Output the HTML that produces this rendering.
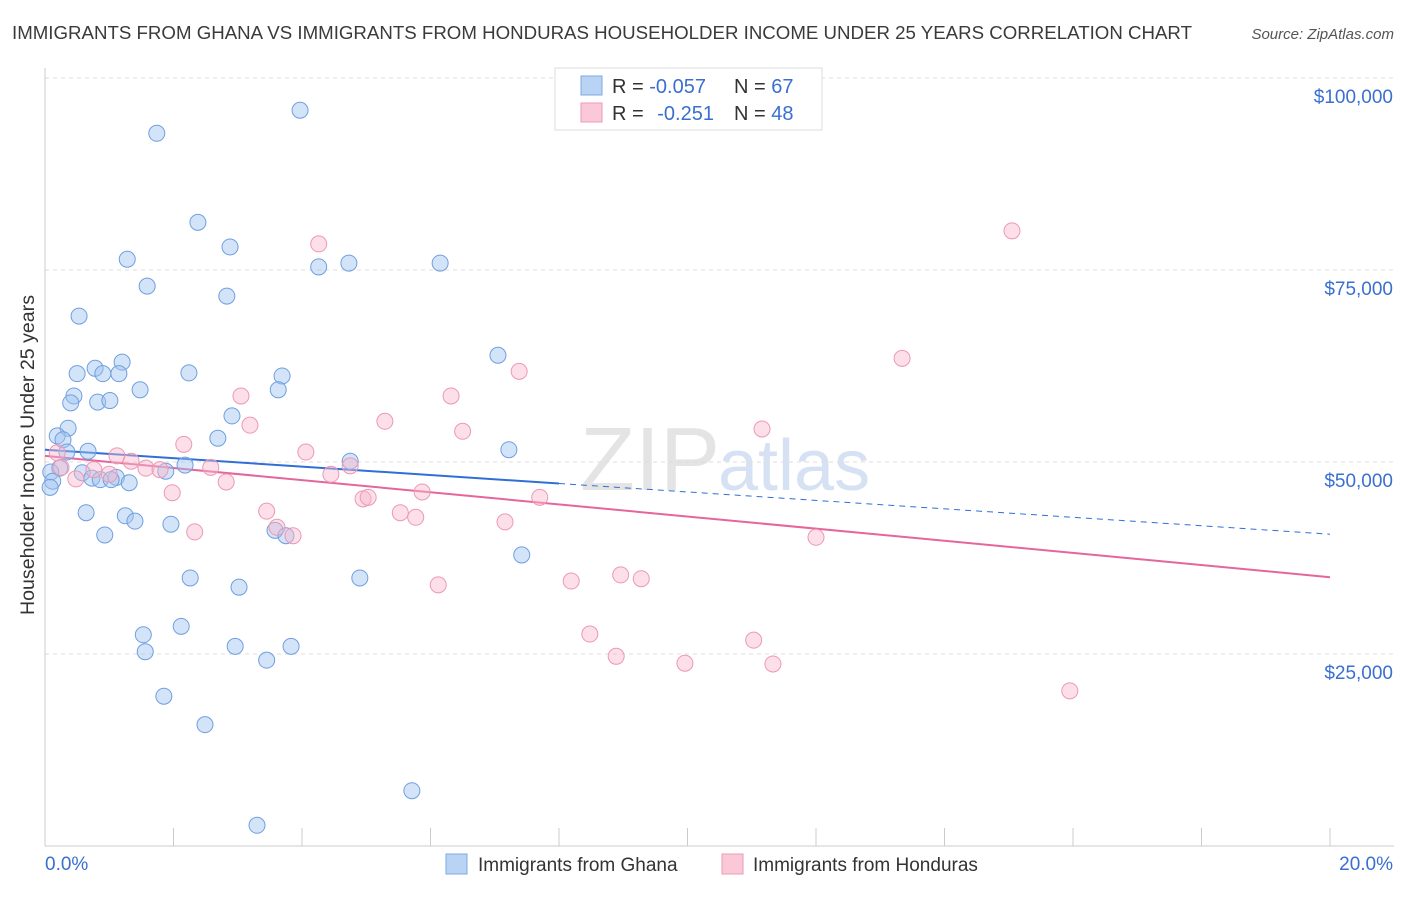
<!DOCTYPE html>
<html><head><meta charset="utf-8"><style>
body{margin:0;background:#fff;font-family:"Liberation Sans",sans-serif;}
svg text{font-family:"Liberation Sans",sans-serif;}
</style></head><body>
<svg id="chart" width="1406" height="892" xmlns="http://www.w3.org/2000/svg">
<text x="12" y="39" font-size="18" fill="#3a3a3a" textLength="1180" lengthAdjust="spacingAndGlyphs">IMMIGRANTS FROM GHANA VS IMMIGRANTS FROM HONDURAS HOUSEHOLDER INCOME UNDER 25 YEARS CORRELATION CHART</text>
<text x="1394" y="39" font-size="15" fill="#555" font-style="italic" text-anchor="end">Source: ZipAtlas.com</text>
<text x="720" y="490" font-size="90" fill="#e4e4e4" text-anchor="end" font-family="Liberation Serif">ZIP</text>
<text x="718" y="490" font-size="72" fill="#d6e2f3">atlas</text>
<text transform="translate(34,455) rotate(-90)" font-size="19" fill="#333" text-anchor="middle" textLength="320" lengthAdjust="spacingAndGlyphs">Householder Income Under 25 years</text>
<g id="grid"></g><g id="axes"></g><g id="lines"></g><g id="pts"></g>
<g>
<rect x="555" y="68" width="267" height="62" fill="#fff" stroke="#ddd"/>
<rect x="581" y="76" width="21" height="19" fill="#b9d3f5" stroke="#7fa8e0"/>
<rect x="581" y="103" width="21" height="19" fill="#fbc8d8" stroke="#ee9ab7"/>
<text x="612" y="93" font-size="20" fill="#333">R = <tspan fill="#3a6fd0">-0.057</tspan></text>
<text x="734" y="93" font-size="20" fill="#333">N = <tspan fill="#3a6fd0">67</tspan></text>
<text x="612" y="120" font-size="20" fill="#333">R = <tspan fill="#3a6fd0" dx="8">-0.251</tspan></text>
<text x="734" y="120" font-size="20" fill="#333">N = <tspan fill="#3a6fd0">48</tspan></text>
</g>
<g>
<rect x="446" y="854" width="21" height="20" fill="#b9d3f5" stroke="#7fa8e0"/>
<text x="478" y="871" font-size="19" fill="#333">Immigrants from Ghana</text>
<rect x="722" y="854" width="21" height="20" fill="#fbc8d8" stroke="#ee9ab7"/>
<text x="753" y="871" font-size="19" fill="#333">Immigrants from Honduras</text>
</g>
</svg>
<script>
const yTicks=[25000,50000,75000,100000];
const yTickLabels=["$25,000","$50,000","$75,000","$100,000"];
const xTickLabels=["0.0%","20.0%"];
const ghanaX=[3.97,1.74,2.38,2.88,1.28,4.26,4.73,6.15,1.59,2.83,0.53,7.05,1.20,0.78,0.50,0.90,1.15,2.24,3.69,1.48,3.63,0.45,0.40,0.82,1.01,2.91,0.36,0.19,0.28,2.69,0.67,7.22,0.34,4.75,2.18,0.23,1.88,0.09,0.58,0.73,1.11,0.86,1.03,1.31,0.12,0.08,0.64,1.25,1.40,1.96,3.58,3.75,0.93,7.42,2.26,4.90,3.02,2.12,1.53,1.56,2.96,3.83,3.45,1.85,2.49,5.71,3.30];
const ghanaY=[95.8,92.8,81.2,78.0,76.4,75.4,75.9,75.9,72.9,71.6,69.0,63.9,63.0,62.2,61.5,61.5,61.5,61.6,61.2,59.4,59.4,58.6,57.7,57.8,58.0,56.0,54.4,53.4,52.9,53.1,51.4,51.6,51.3,50.1,49.6,49.2,48.8,48.7,48.6,47.9,48.0,47.7,47.7,47.3,47.5,46.7,43.4,43.0,42.3,41.9,41.1,40.4,40.5,37.9,34.9,34.9,33.7,28.6,27.5,25.3,26.0,26.0,24.2,19.5,15.8,7.2,2.7];
const hondX=[15.05,4.26,13.34,7.38,6.32,3.05,5.29,3.19,6.50,11.16,2.16,4.06,0.19,1.12,1.34,4.75,1.57,1.79,2.58,0.25,0.76,1.00,4.45,0.48,2.82,1.98,5.87,4.95,5.03,7.70,3.45,5.53,5.77,7.16,2.33,3.61,3.86,12.0,6.12,8.19,8.96,9.28,8.48,11.03,8.89,9.96,11.33,15.95];
const hondY=[80.1,78.4,63.5,61.8,58.6,58.6,55.3,54.8,54.0,54.3,52.3,51.3,51.2,50.8,50.1,49.5,49.2,49.0,49.3,49.3,49.0,48.4,48.4,47.8,47.4,46.0,46.1,45.2,45.4,45.4,43.6,43.4,42.8,42.2,40.9,41.5,40.4,40.2,34.0,34.5,35.3,34.8,27.6,26.8,24.7,23.8,23.7,20.2];
const ghanaTrend=[51.6,40.6];
const hondTrend=[50.8,35.0];
const NS="http://www.w3.org/2000/svg";
const X=p=>45+p/20*1285;
const Y=v=>846-v/25000*192;
function mk(tag,attrs,parent){const e=document.createElementNS(NS,tag);for(const k in attrs)e.setAttribute(k,attrs[k]);document.getElementById(parent).appendChild(e);return e;}
yTicks.forEach((t,i)=>{
 const g=mk('line',{x1:45,x2:1394,y1:Y(t),y2:Y(t),stroke:'#ddd','stroke-dasharray':'4,4'},'grid');
 
 
 const l=mk('text',{x:1393,y:Y(t)+25,'font-size':19,fill:'#3a6fd0','text-anchor':'end'},'axes');
 l.textContent=yTickLabels[i];
 
 
});
const ax=mk('line',{x1:45,x2:1394,y1:846,y2:846,stroke:'#ccc'},'axes');


const ay=mk('line',{x1:45,x2:45,y1:68,y2:846,stroke:'#ccc'},'axes');


for(let p=0;p<=20;p+=2){const t=mk('line',{x1:X(p),x2:X(p),y1:828,y2:846,stroke:'#ccc'},'axes');
 
 }
[[0,45,'start'],[20,1393,'end']].forEach((d,i)=>{const t=mk('text',{x:d[1],y:870,'font-size':19,fill:'#3a6fd0','text-anchor':d[2]},'axes');t.textContent=xTickLabels[i];
 
 });
const tv=(a,p)=>(a[0]+(a[1]-a[0])*p/20)*1000;
let l1=mk('line',{x1:X(0),y1:Y(tv(ghanaTrend,0)),x2:X(8),y2:Y(tv(ghanaTrend,8)),stroke:'#2f6fd6','stroke-width':2},'lines');


let l2=mk('line',{x1:X(8),y1:Y(tv(ghanaTrend,8)),x2:X(20),y2:Y(tv(ghanaTrend,20)),stroke:'#2f6fd6','stroke-width':1,'stroke-dasharray':'6,5'},'lines');


let l3=mk('line',{x1:X(0),y1:Y(tv(hondTrend,0)),x2:X(20),y2:Y(tv(hondTrend,20)),stroke:'#e5669a','stroke-width':2},'lines');


ghanaX.forEach((x,i)=>{const c=mk('circle',{cx:X(x),cy:Y(ghanaY[i]*1000),r:8,fill:'rgba(160,195,240,0.45)',stroke:'#6f9fe0','stroke-width':1},'pts');
 
 });
hondX.forEach((x,i)=>{const c=mk('circle',{cx:X(x),cy:Y(hondY[i]*1000),r:8,fill:'rgba(248,185,205,0.45)',stroke:'#ec98b6','stroke-width':1},'pts');
 
 });
</script>
</body></html>
